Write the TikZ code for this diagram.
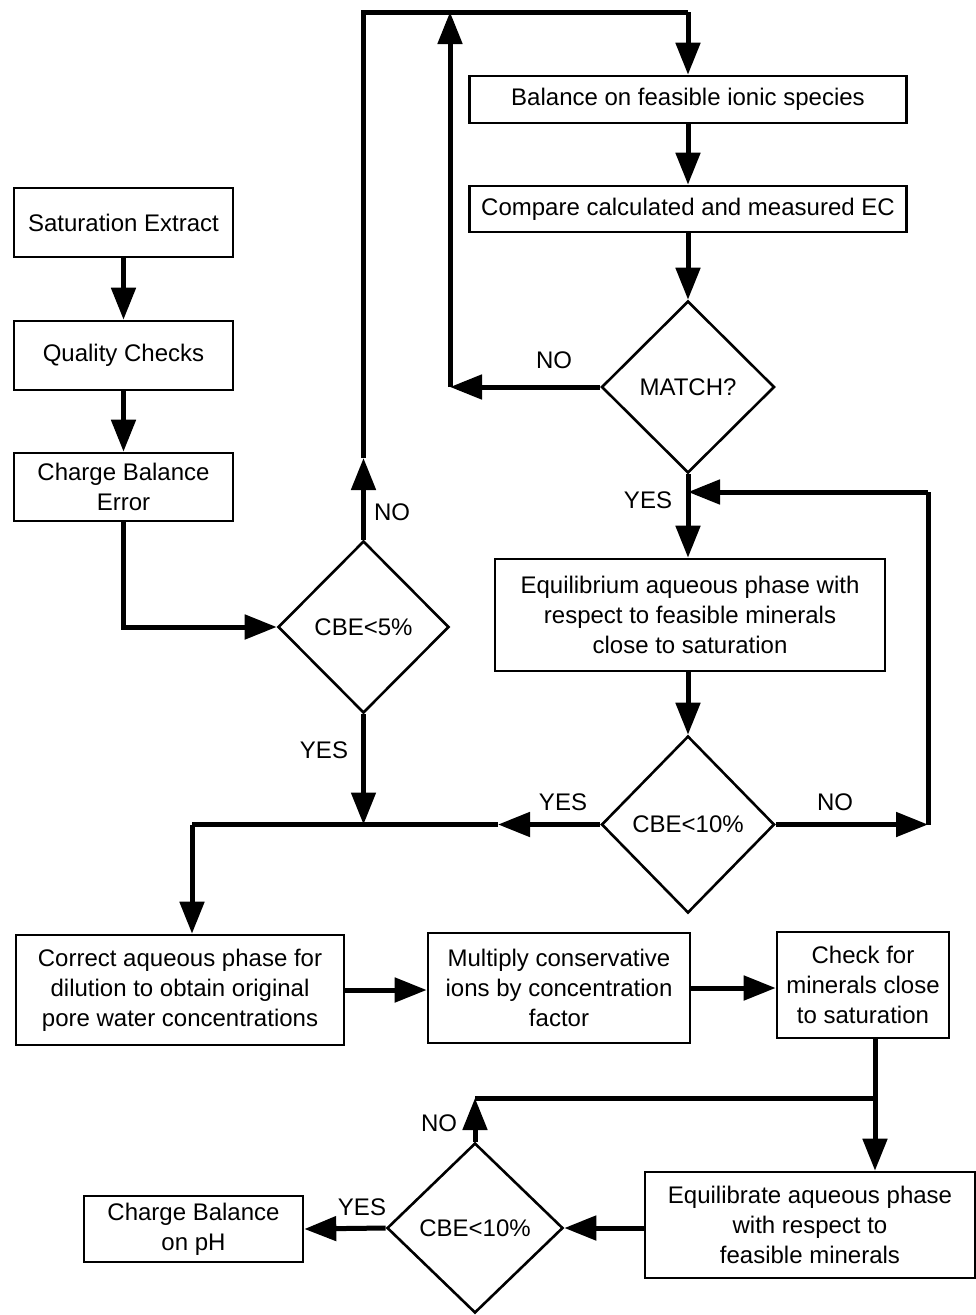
\documentclass[tikz,border=0pt]{standalone}
\usepackage{fontspec}
\setmainfont{Liberation Sans}
\usetikzlibrary{shapes.geometric,arrows.meta}

\begin{document}
\begin{tikzpicture}[x=1pt,y=-1pt]
   \tikzstyle{every node}=[font=\fontsize{24}{30}\selectfont, inner sep=0pt]
   \tikzstyle{box}=[draw, line width=2.6pt, align=center]
   \tikzstyle{decision}=[draw, diamond, line width=2.6pt, align=center]
   \tikzstyle{flow}=[line width=5pt]
   \tikzstyle{arr}=[flow, -{Triangle[length=32pt,width=24pt]}]

\useasboundingbox (0,0) rectangle (976,1315);

% left column
\node[box, minimum width=219pt, minimum height=69pt] (sat) at (123.5,222.5) {Saturation Extract};
\node[box, minimum width=219pt, minimum height=69pt] (qual) at (123.5,355.5) {Quality Checks};
\node[box, minimum width=219pt, minimum height=68pt] (cbe) at (123.5,487) {Charge Balance\\Error};
\node[decision, minimum width=171pt, minimum height=172pt] (cbe5) at (363.5,627) {CBE<5\%};

% upper right loop
\node[box, minimum width=437pt, minimum height=47pt] (bal) at (688,99.5) {Balance on feasible ionic species};
\node[box, minimum width=437pt, minimum height=46pt] (comp) at (688,209) {Compare calculated and measured EC};
\node[decision, minimum width=173pt, minimum height=172pt] (match) at (688,387) {MATCH?};
\node[box, minimum width=390pt, minimum height=112pt] (equil) at (690,615) {Equilibrium aqueous phase with\\respect to feasible minerals\\close to saturation};
\node[decision, minimum width=173pt, minimum height=177pt] (cbea) at (688,824.5) {CBE<10\%};

% lower part
\node[box, minimum width=328pt, minimum height=110pt] (corr) at (180,990) {Correct aqueous phase for\\dilution to obtain original\\pore water concentrations};
\node[box, minimum width=262pt, minimum height=110pt] (mult) at (559,988) {Multiply conservative\\ions by concentration\\factor};
\node[box, minimum width=172pt, minimum height=106pt] (check) at (863,985) {Check for\\minerals close\\to saturation};
\node[box, minimum width=330pt, minimum height=106pt] (eqb) at (810,1225) {Equilibrate aqueous phase\\with respect to\\feasible minerals};
\node[decision, minimum width=176pt, minimum height=170pt] (cbeb) at (475,1228) {CBE<10\%};
\node[box, minimum width=219pt, minimum height=66pt] (cbph) at (193.5,1229) {Charge Balance\\on pH};

% corner points
\coordinate (up5) at (363.5,458);
\coordinate (tl) at (363.5,12);
\coordinate (tr) at (688,12);
\coordinate (nom) at (450,387);
\coordinate (top) at (450,12);
\coordinate (r1) at (928,824.5);
\coordinate (r2) at (928,492);
\coordinate (y1) at (498,824.5);
\coordinate (y2) at (192,824.5);
\coordinate (j1) at (875,1098);
\coordinate (j2) at (475,1098);

% connectors
\draw[arr] (sat) -- (qual);
\draw[arr] (qual) -- (cbe);
\draw[arr] (cbe.south) -- (cbe.south |- cbe5.west) -- (cbe5.west);
\draw[arr] (cbe5.north) -- (up5);
\draw[flow] (up5) -- (tl) -- (tr);
\draw[arr] (tr) -- (bal.north);
\draw[arr] (bal) -- (comp);
\draw[arr] (comp) -- (match.north);
\draw[arr] (match.west) -- (nom);
\draw[arr] (nom) -- (top);
\draw[arr] (match.south) -- (match.south |- equil.north);
\draw[arr] (equil.south -| cbea.north) -- (cbea.north);
\draw[arr] (cbea.east) -- (r1);
\draw[flow] (r1) -- (r2);
\draw[arr] (r2) -- (r2 -| match.south);
\draw[arr] (cbea.west) -- (y1);
\draw[flow] (y1) -- (y2);
\draw[arr] (y2) -- (y2 |- corr.north);
\draw[arr] (cbe5.south) -- (cbe5.south |- y1);
\draw[arr] (corr.east) -- (corr.east -| mult.west);
\draw[arr] (mult.east) -- (mult.east -| check.west);
\draw[flow] (check.south -| j1) -- (j1) -- (j2);
\draw[arr] (j1) -- (j1 |- eqb.north);
\draw[arr] (cbeb.north) -- (j2);
\draw[arr] (eqb.west |- cbeb.east) -- (cbeb.east);
\draw[arr] (cbeb.west) -- (cbph.east);

% branch labels
\node (lno1) at (554,360) {NO};
\node (lyes1) at (648,500) {YES};
\node (lno2) at (392,512) {NO};
\node (lyes2) at (324,750) {YES};
\node (lyes3) at (563,802) {YES};
\node (lno3) at (835,802) {NO};
\node (lno4) at (439,1123) {NO};
\node (lyes4) at (362,1207) {YES};

\end{tikzpicture}
\end{document}
